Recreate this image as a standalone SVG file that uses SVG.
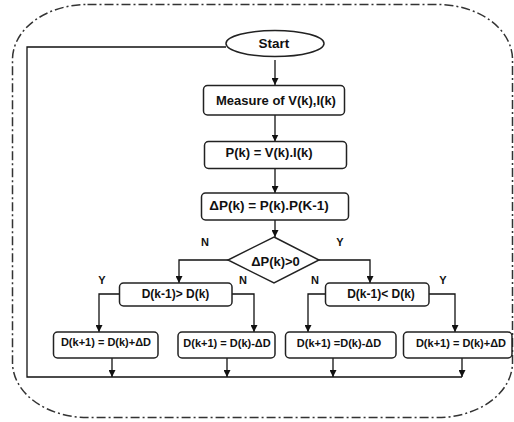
<svg xmlns="http://www.w3.org/2000/svg" width="514" height="422" viewBox="0 0 514 422">
<defs>
<marker id="ah" viewBox="0 0 10 10" refX="10" refY="5" markerWidth="7" markerHeight="7" markerUnits="userSpaceOnUse" orient="auto"><path d="M0,0 L10,5 L0,10 z" fill="#111"/></marker>
<style>
.box{fill:#fff;stroke:#222;stroke-width:1.5}
.t{font-family:"Liberation Sans",Arial,sans-serif;font-weight:bold;fill:#111;text-anchor:middle;dominant-baseline:central}
.c{fill:none;stroke:#111;stroke-width:1.3}
.a{fill:none;stroke:#111;stroke-width:1.3;marker-end:url(#ah)}
.lbl{font-family:"Liberation Sans",Arial,sans-serif;font-weight:bold;font-size:11px;fill:#111;text-anchor:middle;dominant-baseline:central}
</style>
</defs>
<rect x="12.5" y="4.5" width="500" height="413" rx="75" ry="55" fill="none" stroke="#333" stroke-width="1.5" stroke-dasharray="9 3 2 3"/>
<g id="connectors">
<path class="c" d="M226,47 H27 V377 H462"/>
<path class="a" d="M275,60 V85"/>
<path class="a" d="M275,115 V141.5"/>
<path class="a" d="M275,168 V193"/>
<path class="a" d="M275,220 V237"/>
<path class="a" d="M228,260 H179 V283"/>
<path class="a" d="M319,260 H370 V283"/>
<path class="a" d="M119,294 H99 V332"/>
<path class="a" d="M232,294 H254 V332"/>
<path class="a" d="M325,294 H308 V332"/>
<path class="a" d="M429,294 H455 V332"/>
<path class="a" d="M112,358 V377"/>
<path class="a" d="M227,358 V377"/>
<path class="a" d="M333,358 V377"/>
<path class="a" d="M462,358 V377"/>
<text class="lbl" x="205" y="242">N</text>
<text class="lbl" x="340" y="242">Y</text>
<text class="lbl" x="102" y="280">Y</text>
<text class="lbl" x="243" y="280">N</text>
<text class="lbl" x="315" y="280">N</text>
<text class="lbl" x="443" y="280">Y</text>
</g>
<g id="start"><ellipse class="box" cx="275" cy="43.5" rx="49" ry="13"/><text class="t" x="274" y="43.5" font-size="13.5">Start</text></g>
<g id="measure"><rect class="box" x="203.5" y="85.5" width="141" height="29.5" rx="4"/><text class="t" x="276" y="100" font-size="13">Measure of V(k),I(k)</text></g>
<g id="power"><rect class="box" x="204.5" y="141.5" width="142" height="27" rx="4"/><text class="t" x="269" y="152" font-size="13">P(k) = V(k).I(k)</text></g>
<g id="deltap"><rect class="box" x="201.5" y="193" width="147" height="27" rx="4"/><text class="t" x="269" y="205.5" font-size="13.5">ΔP(k) = P(k).P(K-1)</text></g>
<g id="decision"><polygon class="box" points="274,237 319,260 274,283 228,260"/><text class="t" x="275.5" y="261" font-size="13">ΔP(k)&gt;0</text></g>
<g id="cmpleft"><rect class="box" x="119.5" y="283" width="112.5" height="23" rx="4"/><text class="t" x="175.5" y="293.5" font-size="12">D(k-1)&gt; D(k)</text></g>
<g id="cmpright"><rect class="box" x="325.5" y="283" width="103.5" height="23" rx="4"/><text class="t" x="381" y="293.5" font-size="12">D(k-1)&lt; D(k)</text></g>
<g id="inc1"><rect class="box" x="53.5" y="332" width="104.5" height="26" rx="4"/><text class="t" x="106" y="342" font-size="11">D(k+1) = D(k)+ΔD</text></g>
<g id="dec1"><rect class="box" x="178" y="332" width="97" height="26" rx="4"/><text class="t" x="227" y="343" font-size="11">D(k+1) = D(k)-ΔD</text></g>
<g id="dec2"><rect class="box" x="285.5" y="332" width="110.5" height="26" rx="4"/><text class="t" x="339" y="343" font-size="11">D(k+1) =D(k)-ΔD</text></g>
<g id="inc2"><rect class="box" x="403.5" y="332" width="108.5" height="26" rx="4"/><text class="t" x="461" y="343" font-size="11">D(k+1) = D(k)+ΔD</text></g>
</svg>
